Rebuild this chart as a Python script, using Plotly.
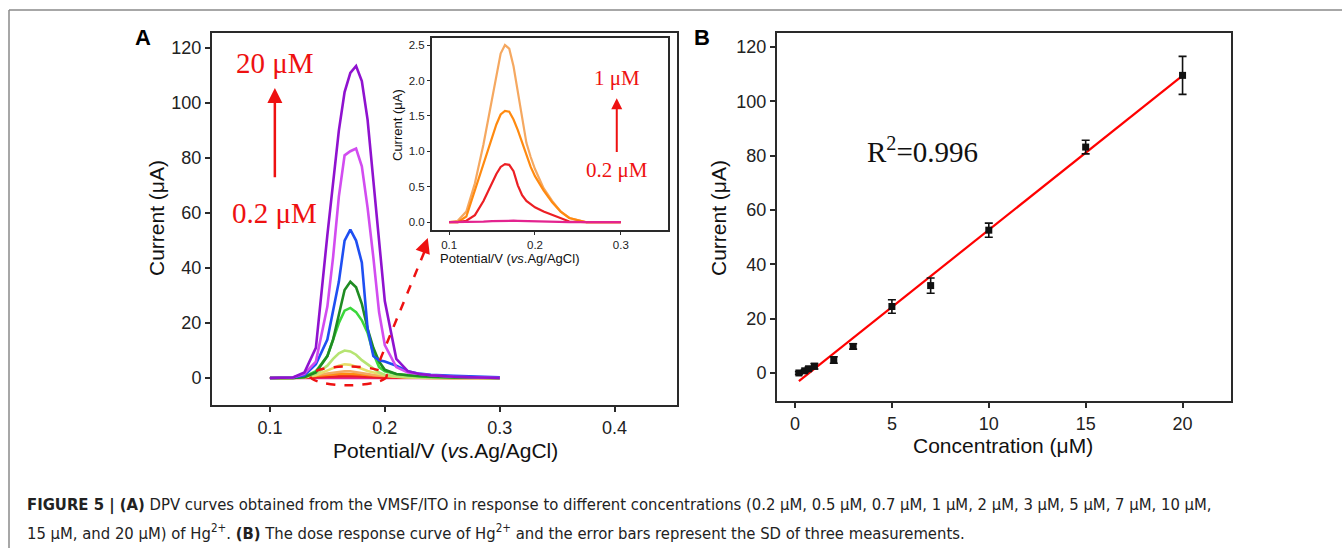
import plotly.graph_objects as go

W, H = 1342, 548

# ---------------- Panel A data (DPV curves) ----------------
potential = [0.10, 0.11, 0.12, 0.13, 0.14, 0.15, 0.155, 0.16, 0.165, 0.17, 0.175, 0.18,
             0.185, 0.19, 0.195, 0.20, 0.21, 0.22, 0.23, 0.24, 0.26, 0.28, 0.30]
conc_labels = ["0.2 μM", "0.5 μM", "0.7 μM", "1 μM", "2 μM", "3 μM", "5 μM", "7 μM", "10 μM", "15 μM", "20 μM"]
cur_0_2 = [0, 0, 0, 0.003, 0.008, 0.015, 0.018, 0.02, 0.022, 0.022, 0.021, 0.02,
           0.018, 0.016, 0.014, 0.012, 0.008, 0.005, 0.003, 0.002, 0.0, 0, 0]
cur_0_5 = [0, 0, 0.02, 0.1, 0.3, 0.55, 0.68, 0.78, 0.82, 0.81, 0.72, 0.52,
           0.38, 0.3, 0.25, 0.21, 0.15, 0.1, 0.05, 0.01, 0, 0, 0]
cur_0_7 = [0, 0, 0.08, 0.45, 0.85, 1.2, 1.38, 1.52, 1.57, 1.56, 1.45, 1.3,
           1.12, 0.95, 0.78, 0.65, 0.45, 0.28, 0.15, 0.06, 0, 0, 0]
cur_1 = [0, 0.02, 0.15, 0.55, 1.1, 1.75, 2.1, 2.38, 2.5, 2.45, 2.2, 1.85,
         1.45, 1.12, 0.92, 0.75, 0.48, 0.3, 0.15, 0.06, 0, 0, 0]
cur_2 = [0, 0, 0.05, 0.25, 1.0, 2.6, 3.6, 4.5, 5.0, 4.8, 4.2, 3.4,
         2.6, 2.0, 1.5, 1.0, 0.5, 0.2, 0.1, 0.05, 0, 0, 0]
cur_3 = [0, 0, 0.05, 0.3, 1.5, 4.5, 7.0, 9.0, 10.0, 9.7, 8.5, 6.5,
         5.0, 3.5, 2.0, 1.2, 0.6, 0.3, 0.15, 0.1, 0, 0, 0]
cur_5 = [0, 0, 0.05, 0.5, 2.5, 8.0, 14.0, 20.0, 24.5, 25.5, 24.0, 21.0,
         16.5, 9.0, 4.0, 2.5, 1.5, 1.0, 0.6, 0.4, 0.2, 0.1, 0]
cur_7 = [0, 0, 0.05, 0.3, 2.0, 8.0, 14.0, 23.0, 32.0, 35.0, 33.0, 27.0,
         18.0, 11.0, 6.0, 3.0, 1.5, 1.0, 0.7, 0.5, 0.2, 0.1, 0]
cur_10 = [0, 0.05, 0.2, 1.0, 5.0, 14.0, 24.0, 35.0, 50.0, 54.0, 50.0, 42.0,
          18.0, 8.0, 6.5, 6.0, 4.5, 2.5, 1.6, 1.2, 0.8, 0.5, 0.3]
cur_15 = [0, 0.05, 0.2, 1.5, 6.0, 26.0, 44.0, 66.0, 81.0, 82.5, 83.5, 77.0,
          62.0, 44.0, 24.0, 12.0, 4.0, 2.0, 1.4, 1.0, 0.5, 0.2, 0]
cur_20 = [0, 0.05, 0.2, 2.0, 11.0, 52.0, 70.0, 90.0, 104.0, 111.0, 113.5, 108.0,
          94.0, 72.0, 48.0, 28.0, 7.0, 2.5, 1.5, 1.0, 0.5, 0.2, 0]
curves = [cur_0_2, cur_0_5, cur_0_7, cur_1, cur_2, cur_3, cur_5, cur_7, cur_10, cur_15, cur_20]
curve_colors = ["#e3238f", "#ec1f24", "#ff8a10", "#f5a860", "#e6de6a", "#b6e472",
                "#3cd83c", "#1f8c23", "#1f4ff2", "#d24cf0", "#8f12cf"]
inset_count = 4  # 0.2, 0.5, 0.7, 1 µM shown in the inset

# ---------------- Panel B data (calibration) ----------------
conc = [0.2, 0.5, 0.7, 1, 2, 3, 5, 7, 10, 15, 20]
mean_current = [0.02, 0.82, 1.57, 2.5, 4.8, 9.8, 24.5, 32.2, 52.6, 83.2, 109.6]
sd_current = [0.5, 0.5, 0.6, 1.0, 1.2, 1.0, 2.5, 2.8, 2.6, 2.5, 7.0]
fit_slope, fit_intercept = 5.68, -4.1
fit_x = [0.2, 20]
r2_text = "R<sup>2</sup>=0.996"

def px(x):
    return x / W

def py(y):
    return 1 - y / H

fig = go.Figure()

# Panel A main curves
for vals, col, lab in zip(curves, curve_colors, conc_labels):
    fig.add_trace(go.Scatter(x=potential, y=vals, mode="lines", name=lab,
                             line=dict(color=col, width=2.6), xaxis="x", yaxis="y",
                             showlegend=False))
# Inset curves
for vals, col, lab in list(zip(curves, curve_colors, conc_labels))[:inset_count][::-1]:
    fig.add_trace(go.Scatter(x=potential, y=vals, mode="lines", name=lab,
                             line=dict(color=col, width=2.2), xaxis="x3", yaxis="y3",
                             showlegend=False))

# Panel B fit + points
fig.add_trace(go.Scatter(x=fit_x, y=[fit_slope * v + fit_intercept for v in fit_x],
                         mode="lines", line=dict(color="#ff0000", width=2.2),
                         xaxis="x2", yaxis="y2", showlegend=False))
fig.add_trace(go.Scatter(x=conc, y=mean_current, mode="markers",
                         marker=dict(symbol="square", size=7, color="#111"),
                         error_y=dict(type="data", array=sd_current, color="#111",
                                      thickness=1.6, width=4),
                         xaxis="x2", yaxis="y2", showlegend=False))

axis_common = dict(showline=True, linecolor="#2a2a2a", linewidth=2, mirror=True,
                   ticks="outside", ticklen=5, tickwidth=1.5, tickcolor="#2a2a2a",
                   showgrid=False, zeroline=False,
                   tickfont=dict(family="Liberation Sans, Arial", size=18, color="#222"))
inset_axis = {**axis_common, "tickfont": dict(family="Liberation Sans, Arial", size=11.5, color="#222"),
              "ticklen": 3, "tickwidth": 1.2}

fig.update_layout(
    width=W, height=H, margin=dict(l=0, r=0, t=0, b=0),
    paper_bgcolor="white", plot_bgcolor="white",
    xaxis=dict(domain=[px(212), px(677)], range=[0.0496, 0.4543],
               tickvals=[0.1, 0.2, 0.3, 0.4], anchor="y", **axis_common),
    yaxis=dict(domain=[py(405), py(33)], range=[-9.8, 125.5],
               tickvals=[0, 20, 40, 60, 80, 100, 120], anchor="x", **axis_common),
    xaxis2=dict(domain=[px(777), px(1231)], range=[-0.93, 22.5],
                tickvals=[0, 5, 10, 15, 20], anchor="y2", **axis_common),
    yaxis2=dict(domain=[py(401), py(33)], range=[-10.3, 125.2],
                tickvals=[0, 20, 40, 60, 80, 100, 120], anchor="x2", **axis_common),
    xaxis3=dict(domain=[px(432), px(668)], range=[0.08, 0.355],
                tickvals=[0.1, 0.2, 0.3], anchor="y3", **inset_axis),
    yaxis3=dict(domain=[py(230), py(38)], range=[-0.11, 2.6],
                tickvals=[0, 0.5, 1.0, 1.5, 2.0, 2.5], tickformat=".1f", anchor="x3", **inset_axis),
)

ann = []
C = dict(xanchor="center", yanchor="middle", showarrow=False)
label_font = dict(family="Liberation Sans, Arial", size=21, color="#111")
ann.append(dict(text="Current (μA)", x=px(156), y=py(218), xref="paper", yref="paper",
                textangle=-90, font=label_font, **C))
ann.append(dict(text="Potential/V (<i>vs</i>.Ag/AgCl)", x=px(445), y=py(450), xref="paper", yref="paper",
                font=label_font, **C))
ann.append(dict(text="Current (μA)", x=px(718), y=py(218), xref="paper", yref="paper",
                textangle=-90, font=label_font, **C))
ann.append(dict(text="Concentration (μM)", x=px(1003), y=py(445), xref="paper", yref="paper",
                font=label_font, **C))
inset_font = dict(family="Liberation Sans, Arial", size=13, color="#111")
ann.append(dict(text="Current (μA)", x=px(397), y=py(125), xref="paper", yref="paper",
                textangle=-90, font=inset_font, **C))
ann.append(dict(text="Potential/V (<i>vs</i>.Ag/AgCl)", x=px(510), y=py(258), xref="paper", yref="paper",
                font=inset_font, **C))
# panel letters
ann.append(dict(text="<b>A</b>", x=px(143), y=py(38), xref="paper", yref="paper",
                font=dict(family="Liberation Sans, Arial", size=22, color="#000"), **C))
ann.append(dict(text="<b>B</b>", x=px(702), y=py(38), xref="paper", yref="paper",
                font=dict(family="Liberation Sans, Arial", size=22, color="#000"), **C))
# red annotations panel A
red = "#ee1111"
serif_big = dict(family="Liberation Serif, Times New Roman", size=29, color=red)
ann.append(dict(text="20 μM", x=0.1043, y=114.5, xref="x", yref="y", font=serif_big, **C))
ann.append(dict(text="0.2 μM", x=0.1043, y=60.0, xref="x", yref="y", font=serif_big, **C))
ann.append(dict(text="", x=0.1043, y=105.5, ax=0.1043, ay=72.5, xref="x", yref="y",
                axref="x", ayref="y", showarrow=True, arrowhead=2, arrowsize=1.2,
                arrowwidth=2.5, arrowcolor=red))
serif_small = dict(family="Liberation Serif, Times New Roman", size=21, color=red)
ann.append(dict(text="1 μM", x=0.2953, y=2.03, xref="x3", yref="y3", font=serif_small, **C))
ann.append(dict(text="0.2 μM", x=0.2953, y=0.73, xref="x3", yref="y3", font=serif_small, **C))
ann.append(dict(text="", x=0.2953, y=1.75, ax=0.2953, ay=0.97, xref="x3", yref="y3",
                axref="x3", ayref="y3", showarrow=True, arrowhead=2, arrowsize=1.1,
                arrowwidth=2, arrowcolor=red))
# dashed connector arrowhead
ann.append(dict(text="", x=0.2374, y=50.9, ax=-5, ay=14, xref="x", yref="y",
                showarrow=True, arrowhead=2, arrowsize=1.2, arrowwidth=2.5, arrowcolor=red))
# R^2
ann.append(dict(text=r2_text, x=px(922), y=py(150), xref="paper", yref="paper",
                font=dict(family="Liberation Serif, Times New Roman", size=29, color="#111"), **C))
# caption
cap_font = dict(family="DejaVu Sans Condensed, Arial Narrow", size=16.5, color="#222")
ann.append(dict(text="<b>FIGURE 5 | (A)</b> DPV curves obtained from the VMSF/ITO in response to different concentrations "
                     "(0.2 μM, 0.5 μM, 0.7 μM, 1 μM, 2 μM, 3 μM, 5 μM, 7 μM, 10 μM,",
                x=px(25), y=py(505), xref="paper", yref="paper", xanchor="left", yanchor="middle",
                showarrow=False, font=cap_font))
ann.append(dict(text="15 μM, and 20 μM) of Hg<sup>2+</sup>. <b>(B)</b> The dose response curve of Hg<sup>2+</sup> "
                     "and the error bars represent the SD of three measurements.",
                x=px(25), y=py(532), xref="paper", yref="paper", xanchor="left", yanchor="middle",
                showarrow=False, font=cap_font))
fig.update_layout(annotations=ann)

shapes = [
    dict(type="circle", xref="x", yref="y", x0=0.135, x1=0.2017, y0=-2.6, y1=4.2,
         line=dict(color=red, width=2.5, dash="dash")),
    dict(type="line", xref="x", yref="y", x0=0.1957, y0=6.5, x1=0.2360, y1=47.5,
         line=dict(color=red, width=2.5, dash="dash")),
    dict(type="line", xref="paper", yref="paper", x0=px(9), y0=py(10), x1=1, y1=py(10),
         line=dict(color="#8a8a8a", width=1.5)),
    dict(type="line", xref="paper", yref="paper", x0=px(9), y0=py(10), x1=px(9), y1=0,
         line=dict(color="#8a8a8a", width=1.5)),
]
fig.update_layout(shapes=shapes)

fig.write_html("out.html", config={"displayModeBar": False},
               post_script="document.body.style.margin='0';document.body.style.overflow='hidden';")
